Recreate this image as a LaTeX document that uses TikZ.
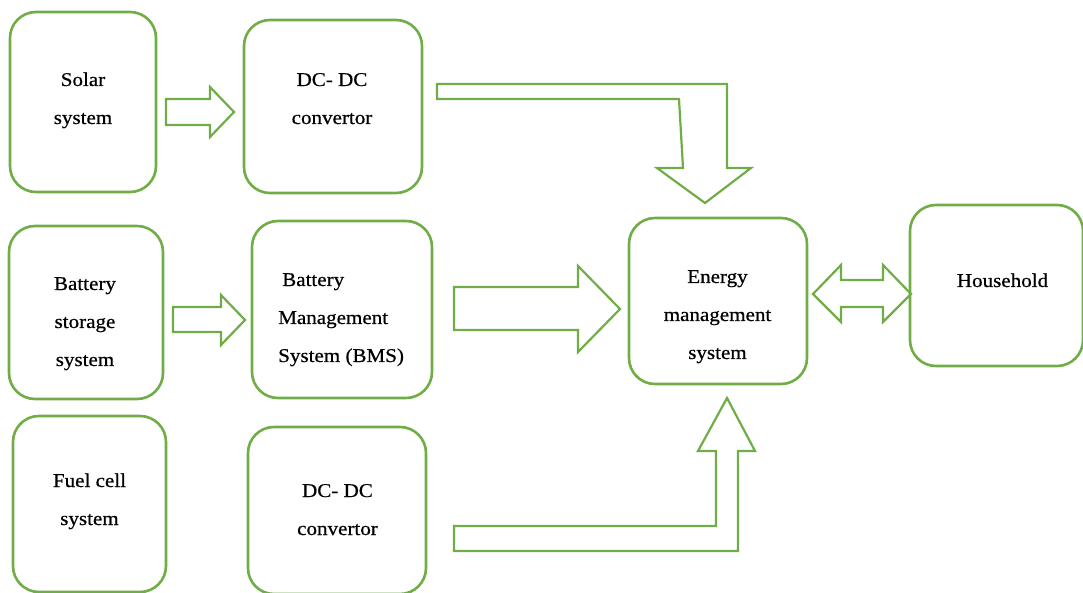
\documentclass[tikz,border=0pt]{standalone}
\usepackage{fontspec}
\setmainfont{Liberation Serif}[FakeStretch=1.08, FakeBold=0.6]
\definecolor{leaf}{RGB}{112,173,71}
\tikzset{
  box/.style={draw=leaf, line width=2.6pt, rounded corners=26pt, inner sep=0pt, outer sep=0pt},
  lbl/.style={anchor=base, inner sep=0pt, font=\fontsize{19.5}{38}\selectfont},
  blockarrow/.style={draw=leaf, line width=2.2pt, line join=miter}
}
\newcommand{\lines}[1]{\begin{tabular}[t]{@{}c@{}}#1\end{tabular}}
\newcommand{\leftlines}[1]{\begin{tabular}[t]{@{}l@{}}#1\end{tabular}}
\begin{document}
\begin{tikzpicture}[x=1pt, y=-1pt]
\useasboundingbox (0,0) rectangle (1083,593);

% rounded boxes
\node[box, minimum width=146pt, minimum height=180pt] (solar) at (83,102) {};
\node[box, minimum width=178pt, minimum height=173pt] (dcone) at (333,106.5) {};
\node[box, minimum width=154pt, minimum height=173pt] (battery) at (86,312.5) {};
\node[box, minimum width=180pt, minimum height=177pt] (bms) at (342,309.5) {};
\node[box, minimum width=178pt, minimum height=166pt] (ems) at (718,301) {};
\node[box, minimum width=173pt, minimum height=161pt] (house) at (996.5,285.5) {};
\node[box, minimum width=153pt, minimum height=176pt] (fuel) at (89.5,504) {};
\node[box, minimum width=178pt, minimum height=167pt] (dctwo) at (337,510.5) {};

% box texts
\node[lbl] (solartext) at (83,86) {\lines{Solar\\system}};
\node[lbl] (dconetext) at (332,86) {\lines{DC- DC\\convertor}};
\node[lbl] (batterytext) at (85,290) {\lines{Battery\\storage\\system}};
\node[lbl, anchor=base west] (bmstext) at (278,286) {\leftlines{\hspace{4pt}Battery\\Management\\System (BMS)}};
\node[lbl] (emstext) at (717.5,283) {\lines{Energy\\management\\system}};
\node[lbl] (housetext) at (1002.5,287) {\lines{Household}};
\node[lbl] (fueltext) at (89.5,487) {\lines{Fuel cell\\system}};
\node[lbl] (dctwotext) at (337.5,497) {\lines{DC- DC\\convertor}};

% solar -> first converter
\draw[blockarrow] (166,99) -- (210,99) -- (210,87) -- (234,112) -- (210,137) -- (210,125) -- (166,125) -- cycle;
% battery storage -> BMS
\draw[blockarrow] (173,307) -- (221,307) -- (221,295) -- (245,320) -- (221,345) -- (221,332) -- (173,332) -- cycle;
% BMS -> energy management
\draw[blockarrow] (454,287) -- (578,287) -- (578,266) -- (620,309) -- (578,352) -- (578,330) -- (454,330) -- cycle;
% first converter -> energy management (bent)
\draw[blockarrow] (437,84) -- (727,84) -- (727,168) -- (751,168) -- (705,203) -- (657,168) -- (683,168) -- (679,99) -- (437,99) -- cycle;
% second converter -> energy management (bent)
\draw[blockarrow] (454,526) -- (716,526) -- (716,451) -- (698,451) -- (727,398) -- (755,451) -- (738,451) -- (738,551) -- (454,551) -- cycle;
% energy management <-> household
\draw[blockarrow] (813,294) -- (841,265) -- (841,280) -- (883,280) -- (883,265) -- (911,294) -- (883,322) -- (883,307) -- (841,307) -- (841,322) -- cycle;
\end{tikzpicture}
\end{document}
